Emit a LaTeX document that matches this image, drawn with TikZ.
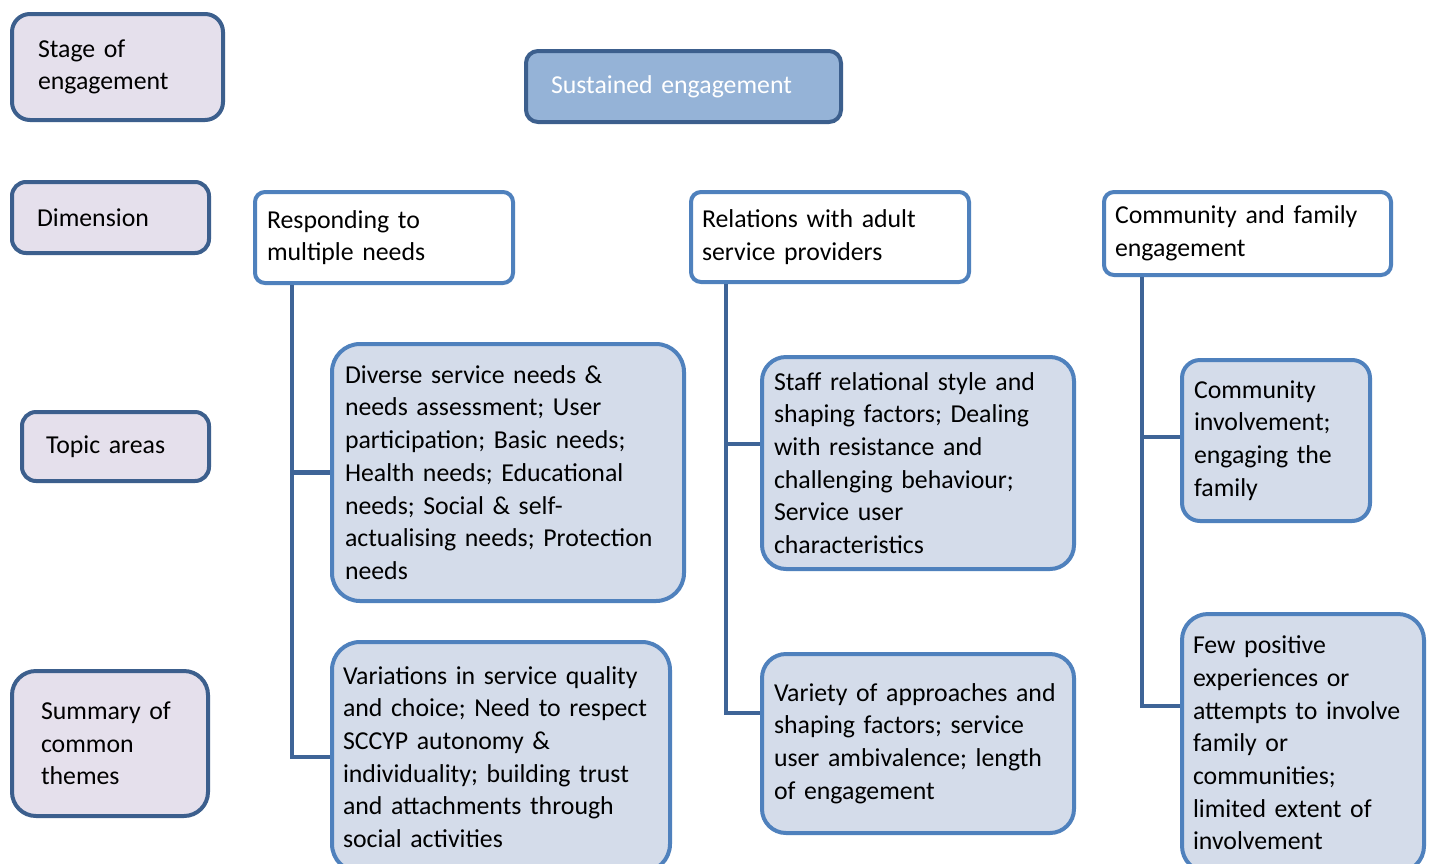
\documentclass[tikz,border=0pt]{standalone}
\usepackage{fontspec}
\setmainfont{Carlito}
\definecolor{darkedge}{HTML}{3C5F8D}
\definecolor{lightedge}{HTML}{4F81BD}
\definecolor{lavender}{HTML}{E5E0EC}
\definecolor{paleblue}{HTML}{D4DCEA}
\definecolor{midblue}{HTML}{95B3D7}
\definecolor{connblue}{HTML}{3E6497}
\tikzset{
  base/.style={draw, line width=4pt, align=left, inner ysep=0pt, font=\fontsize{25.8}{32.7}\selectfont, text=black},
  legendbox/.style={base, draw=darkedge, fill=lavender},
  stagebox/.style={base, draw=darkedge, fill=midblue, text=white},
  dimbox/.style={base, draw=lightedge, fill=white, rounded corners=10pt},
  topicbox/.style={base, draw=lightedge, fill=paleblue},
  conn/.style={draw=connblue, line width=4.5pt}
}
\newcommand{\bx}[8]{% style, name, cx, cy, W, H, pad, radius, text
  \node[#1, minimum width=#5pt, minimum height=#6pt, inner xsep=#7pt, text width=#5pt-2*#7pt, rounded corners=#8pt] (#2) at (#3,#4)}
\begin{document}
\begin{tikzpicture}[x=1pt,y=-1pt]
\useasboundingbox (0,0) rectangle (1435,863);
\fill[white] (0,0) rectangle (1435,863);

% legend column
\bx{legendbox}{stage}{117.5}{67}{211}{106}{26}{18} {Stage of\\engagement};
\bx{legendbox}{dim}{110.5}{217.5}{197}{71}{25}{14} {Dimension};
\bx{legendbox}{topics}{115.5}{446.5}{187}{69}{24}{14} {Topic areas};
\bx{legendbox}{summary}{110}{743.5}{196}{145}{29}{24} {Summary of\\common\\themes};

% stage
\bx{stagebox}{sust}{683.5}{86.5}{315}{71}{25}{12} {Sustained engagement};

% dimensions
\bx{dimbox}{resp}{384}{237.5}{258}{91}{12}{10} {Responding to\\multiple needs};
\bx{dimbox}{rel}{830}{237}{278}{90}{11}{10} {Relations with adult\\service providers};
\bx{dimbox}{comm}{1247.5}{233.5}{287}{83}{11}{10} {Community and family\\engagement};

% topics / themes
\bx{topicbox}{t1}{508}{472.5}{352}{257}{13}{28} {Diverse service needs \&\\needs assessment; User\\participation; Basic needs;\\Health needs; Educational\\needs; Social \& self-\\actualising needs; Protection\\needs};
\bx{topicbox}{t2}{501}{757}{338}{230}{11}{28} {Variations in service quality\\and choice; Need to respect\\SCCYP autonomy \&\\individuality; building trust\\and attachments through\\social activities};
\bx{topicbox}{staff}{918}{463}{312}{212}{12}{24} {Staff relational style and\\shaping factors; Dealing\\with resistance and\\challenging behaviour;\\Service user\\characteristics};
\bx{topicbox}{variety}{918}{743.5}{312}{179}{12}{24} {Variety of approaches and\\shaping factors; service\\user ambivalence; length\\of engagement};
\bx{topicbox}{ci}{1276}{440.5}{188}{161}{12}{18} {Community\\involvement;\\engaging the\\family};
\bx{topicbox}{few}{1303}{743}{242}{258}{11}{26} {Few positive\\experiences or\\attempts to involve\\family or\\communities;\\limited extent of\\involvement};

% connector anchors
\coordinate (lx) at (292,0);
\coordinate (mx) at (726,0);
\coordinate (rx) at (1142,0);
\coordinate (m1) at (726,444);
\coordinate (m2) at (726,713);
\coordinate (r1) at (1142,437);
\coordinate (r2) at (1142,706);

\draw[conn] (lx |- resp.south) |- (t2.west);
\draw[conn] (lx |- t1.west) -- (t1.west);
\draw[conn] (mx |- rel.south) |- (variety.west |- m2);
\draw[conn] (m1) -- (staff.west |- m1);
\draw[conn] (rx |- comm.south) |- (few.west |- r2);
\draw[conn] (r1) -- (ci.west |- r1);
\end{tikzpicture}
\end{document}
